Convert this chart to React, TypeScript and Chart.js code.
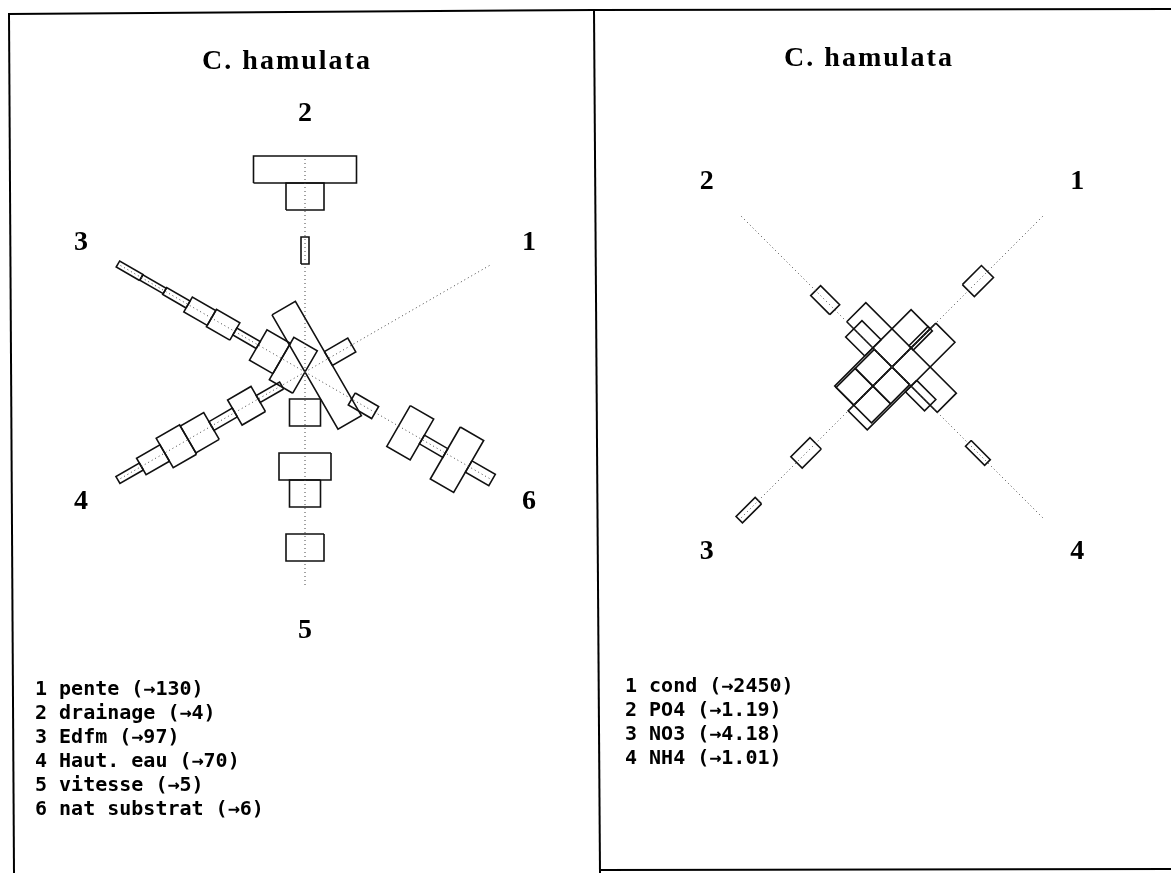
import React, { useEffect, useRef } from "react";
import { Chart, registerables } from "chart.js";

Chart.register(...registerables);

// ---------------- data ----------------
const CLASS_COUNT = 8; // classes along every axis
const VALUE_PER_CLASS = 27; // a profile value of 27 equals one class length

// left star: C. hamulata, habitat variables
const leftTitle = "C. hamulata";
const leftAxisNumbers = ["1", "2", "3", "4", "5", "6"];
const leftAngles = [30, 90, 150, 210, 270, 330];
const leftLegend = [
  "1 pente (→130)",
  "2 drainage (→4)",
  "3 Edfm (→97)",
  "4 Haut. eau (→70)",
  "5 vitesse (→5)",
  "6 nat substrat (→6)",
];
const pente = [132, 16, 0, 0, 0, 0, 0, 0];
const drainage = [0, 0, 0, 0, 8, 0, 38, 103];
const edfm = [49, 35, 8, 20, 17, 8, 6, 7];
const hautEau = [0, 8, 29, 10, 31, 34, 19, 8];
const vitesse = [0, 31, 0, 52, 31, 0, 38, 0];
const natSubstrat = [0, 0, 14, 0, 47, 10, 60, 13];

// right star: C. hamulata, chemistry variables
const rightTitle = "C. hamulata";
const rightAxisNumbers = ["1", "2", "3", "4"];
const rightAngles = [45, 135, 225, 315];
const rightLegend = [
  "1 cond (→2450)",
  "2 PO4 (→1.19)",
  "3 NO3 (→4.18)",
  "4 NH4 (→1.01)",
];
const cond = [128, 6, 0, 0, 17, 0, 0, 0];
const po4 = [108, 23, 0, 14, 0, 0, 0, 0];
const no3 = [50, 50, 0, 0, 16, 0, 0, 9];
const nh4 = [124, 16, 0, 0, 8, 0, 0, 0];

// ---------------- layout ----------------
const PX_PER_CLASS = 27;
const LABEL_RADIUS = 9.58; // in class units

type PanelCfg = {
  width: number;
  height: number;
  cx: number;
  cy: number;
  title: string;
  titleX: number;
  titleY: number;
  numbers: string[];
  angles: number[];
  profiles: number[][];
  legend: string[];
  legendX: number;
  legendY: number;
  labelRadius: number;
};

const leftPanel: PanelCfg = {
  width: 595,
  height: 873,
  cx: 305,
  cy: 372,
  title: leftTitle,
  titleX: 287,
  titleY: 62,
  numbers: leftAxisNumbers,
  angles: leftAngles,
  profiles: [pente, drainage, edfm, hautEau, vitesse, natSubstrat],
  legend: leftLegend,
  legendX: 35,
  legendY: 690,
  labelRadius: LABEL_RADIUS,
};

const rightPanel: PanelCfg = {
  width: 576,
  height: 873,
  cx: 297,
  cy: 367,
  title: rightTitle,
  titleX: 274,
  titleY: 59,
  numbers: rightAxisNumbers,
  angles: rightAngles,
  profiles: [cond, po4, no3, nh4],
  legend: rightLegend,
  legendX: 30,
  legendY: 687,
  labelRadius: 9.7,
};

function buildDatasets(cfg: PanelCfg) {
  const datasets: any[] = [];
  cfg.angles.forEach((deg) => {
    const a = (deg * Math.PI) / 180;
    datasets.push({
      data: [
        { x: 0, y: 0 },
        { x: CLASS_COUNT * Math.cos(a), y: CLASS_COUNT * Math.sin(a) },
      ],
      showLine: true,
      borderColor: "#444",
      borderWidth: 1,
      borderDash: [1, 3],
      pointRadius: 0,
      fill: false,
    });
  });
  cfg.profiles.forEach((prof, i) => {
    const a = (cfg.angles[i] * Math.PI) / 180;
    const dx = Math.cos(a);
    const dy = Math.sin(a);
    const px = -dy;
    const py = dx;
    prof.forEach((v, k) => {
      if (v <= 0) return;
      const h = v / VALUE_PER_CLASS / 2;
      const r0 = k;
      const r1 = k + 1;
      const pts = [
        { x: r0 * dx + h * px, y: r0 * dy + h * py },
        { x: r1 * dx + h * px, y: r1 * dy + h * py },
        { x: r1 * dx - h * px, y: r1 * dy - h * py },
        { x: r0 * dx - h * px, y: r0 * dy - h * py },
      ];
      pts.push({ ...pts[0] });
      datasets.push({
        data: pts,
        showLine: true,
        borderColor: "#111",
        borderWidth: 1.6,
        pointRadius: 0,
        fill: false,
      });
    });
  });
  return datasets;
}

function makeTextPlugin(cfg: PanelCfg) {
  return {
    id: "starText",
    afterDraw(chart: any) {
      const ctx = chart.ctx as CanvasRenderingContext2D;
      const xs = chart.scales.x;
      const ys = chart.scales.y;
      ctx.save();
      ctx.fillStyle = "#000";
      // title
      ctx.font = "bold 28px 'Liberation Serif', 'DejaVu Serif', serif";
      (ctx as any).letterSpacing = "2px";
      ctx.textAlign = "center";
      ctx.textBaseline = "middle";
      ctx.fillText(cfg.title, cfg.titleX, cfg.titleY);
      (ctx as any).letterSpacing = "0px";
      // axis numbers
      ctx.font = "bold 28px 'Liberation Serif', 'DejaVu Serif', serif";
      cfg.numbers.forEach((n, i) => {
        const a = (cfg.angles[i] * Math.PI) / 180;
        const x = xs.getPixelForValue(cfg.labelRadius * Math.cos(a));
        const y = ys.getPixelForValue(cfg.labelRadius * Math.sin(a));
        ctx.fillText(n, x, y);
      });
      // variable legend
      ctx.font = "bold 20px 'DejaVu Sans Mono', monospace";
      ctx.textAlign = "left";
      cfg.legend.forEach((t, i) => {
        ctx.fillText(t, cfg.legendX, cfg.legendY + i * 24);
      });
      ctx.restore();
    },
  };
}

function StarPanel({ cfg, left }: { cfg: PanelCfg; left: number }) {
  const ref = useRef<HTMLCanvasElement | null>(null);
  useEffect(() => {
    if (!ref.current) return;
    const xMin = -cfg.cx / PX_PER_CLASS;
    const xMax = (cfg.width - cfg.cx) / PX_PER_CLASS;
    const yMax = cfg.cy / PX_PER_CLASS;
    const yMin = -(cfg.height - cfg.cy) / PX_PER_CLASS;
    const chart = new Chart(ref.current, {
      type: "scatter",
      data: { datasets: buildDatasets(cfg) },
      options: {
        animation: false,
        responsive: false,
        devicePixelRatio: 1,
        layout: { padding: 0 },
        scales: {
          x: { type: "linear", min: xMin, max: xMax, display: false },
          y: { type: "linear", min: yMin, max: yMax, display: false },
        },
        plugins: {
          legend: { display: false },
          tooltip: { enabled: false },
          title: { display: false },
        },
        elements: { line: { tension: 0 }, point: { radius: 0 } },
      } as any,
      plugins: [makeTextPlugin(cfg)],
    });
    return () => chart.destroy();
  }, [cfg]);
  return (
    <canvas
      ref={ref}
      width={cfg.width}
      height={cfg.height}
      style={{ position: "absolute", left, top: 0, width: cfg.width, height: cfg.height }}
    />
  );
}

export default function App() {
  return (
    <div
      style={{
        position: "absolute",
        left: 0,
        top: 0,
        width: 1171,
        height: 873,
        background: "#fff",
        overflow: "hidden",
      }}
    >
      <svg
        width={1171}
        height={873}
        style={{ position: "absolute", left: 0, top: 0 }}
      >
        <g stroke="#000" strokeWidth={2} fill="none">
          <line x1={8} y1={14} x2={594} y2={10} />
          <line x1={594} y1={10} x2={1171} y2={9} />
          <line x1={9} y1={14} x2={14} y2={873} />
          <line x1={594} y1={10} x2={600} y2={873} />
          <line x1={600} y1={870} x2={1171} y2={869} />
        </g>
      </svg>
      <StarPanel cfg={leftPanel} left={0} />
      <StarPanel cfg={rightPanel} left={595} />
    </div>
  );
}
